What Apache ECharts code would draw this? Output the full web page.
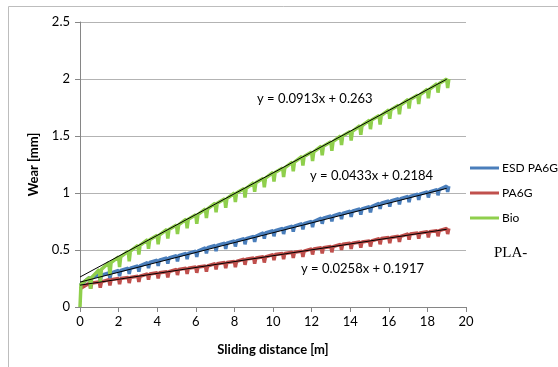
<!DOCTYPE html>
<html>
<head>
<meta charset="utf-8">
<script src="https://cdn.jsdelivr.net/npm/echarts@6/dist/echarts.min.js"></script>
<style>
  html, body { margin: 0; padding: 0; background: #fff; }
  #chart { width: 558px; height: 367px; }
</style>
</head>
<body>
<div id="chart"></div>
<script>
// sliding distance of each wear "tooth" [m]
const dist = [0.5, 1, 1.5, 2, 2.5, 3, 3.5, 4, 4.5, 5, 5.5, 6, 6.5, 7, 7.5, 8, 8.5, 9, 9.5, 10,
  10.5, 11, 11.5, 12, 12.5, 13, 13.5, 14, 14.5, 15, 15.5, 16, 16.5, 17, 17.5, 18, 18.5, 19];

const bioTop = [0.26, 0.33, 0.39, 0.44, 0.49, 0.54, 0.59, 0.63, 0.68, 0.72, 0.77, 0.81, 0.86, 0.91, 0.95, 1.00, 1.04, 1.09, 1.13, 1.18,
  1.22, 1.27, 1.32, 1.36, 1.41, 1.45, 1.50, 1.54, 1.59, 1.64, 1.68, 1.73, 1.77, 1.82, 1.86, 1.91, 1.96, 2.00];
const bioLow = [0.16, 0.22, 0.28, 0.35, 0.40, 0.46, 0.51, 0.55, 0.60, 0.64, 0.69, 0.73, 0.78, 0.83, 0.87, 0.92, 0.96, 1.01, 1.05, 1.10,
  1.14, 1.19, 1.24, 1.28, 1.33, 1.37, 1.42, 1.46, 1.51, 1.56, 1.60, 1.65, 1.69, 1.74, 1.78, 1.83, 1.88, 1.92];

const esdTop = [0.26, 0.28, 0.30, 0.32, 0.34, 0.36, 0.39, 0.41, 0.43, 0.45, 0.47, 0.49, 0.52, 0.54, 0.56, 0.58, 0.60, 0.62, 0.65, 0.67,
  0.69, 0.71, 0.73, 0.75, 0.78, 0.80, 0.82, 0.84, 0.86, 0.88, 0.91, 0.93, 0.95, 0.97, 0.99, 1.01, 1.03, 1.06];
const esdLow = [0.21, 0.23, 0.25, 0.27, 0.29, 0.31, 0.34, 0.36, 0.38, 0.40, 0.42, 0.44, 0.47, 0.49, 0.51, 0.53, 0.55, 0.57, 0.60, 0.62,
  0.64, 0.66, 0.68, 0.70, 0.73, 0.75, 0.77, 0.79, 0.81, 0.83, 0.86, 0.88, 0.90, 0.92, 0.94, 0.96, 0.98, 1.01];

const pa6gTop = [0.21, 0.22, 0.24, 0.25, 0.26, 0.27, 0.29, 0.30, 0.31, 0.33, 0.34, 0.35, 0.36, 0.38, 0.39, 0.40, 0.42, 0.43, 0.44, 0.46,
  0.47, 0.48, 0.49, 0.51, 0.52, 0.53, 0.55, 0.56, 0.57, 0.58, 0.60, 0.61, 0.62, 0.64, 0.65, 0.66, 0.67, 0.69];
const pa6gLow = [0.16, 0.17, 0.19, 0.20, 0.21, 0.22, 0.24, 0.25, 0.26, 0.28, 0.29, 0.30, 0.31, 0.33, 0.34, 0.35, 0.37, 0.38, 0.39, 0.41,
  0.42, 0.43, 0.44, 0.46, 0.47, 0.48, 0.50, 0.51, 0.52, 0.53, 0.55, 0.56, 0.57, 0.59, 0.60, 0.61, 0.62, 0.64];

// first readings at x = 0
const bioStart = [[0, 0], [0.05, 0.2]];
const esdStart = [[0, 0.19]];
const pa6gStart = [[0, 0.16]];

// linear trend lines (endpoints)
const bioFit = [[0, 0.263], [19, 1.998]];
const esdFit = [[0, 0.2184], [19, 1.041]];
const pa6gFit = [[0, 0.1917], [19, 0.682]];

const xTicks = [0, 20, 2];
const yTicks = [0, 2.5, 0.5];

const FONT = "Lato, 'Liberation Sans', sans-serif";

// build the saw-tooth path: top -> dip -> back to top
function teeth(start, tops, lows) {
  const out = start.slice();
  dist.forEach((d, i) => {
    out.push([d, tops[i]]);
    out.push([d + 0.05, lows[i]]);
    out.push([d + 0.11, tops[i]]);
  });
  return out;
}

const chart = echarts.init(document.getElementById("chart"));

const dataLine = (name, color, data) => ({
  name: name,
  type: "line",
  data: data,
  symbol: "none",
  color: color,
  lineStyle: { color: color, width: 3.5 },
  animation: false,
  z: 2
});
const fitLine = (data) => ({
  type: "line",
  data: data,
  symbol: "none",
  lineStyle: { color: "#000", width: 1 },
  animation: false,
  silent: true,
  z: 3
});

const option = {
  backgroundColor: "#fff",
  grid: { left: 80, right: 92, top: 22, bottom: 60 },
  xAxis: {
    type: "value",
    min: xTicks[0], max: xTicks[1], interval: xTicks[2],
    name: "Sliding distance [m]",
    nameLocation: "middle",
    nameGap: 36,
    nameTextStyle: { fontFamily: FONT, fontWeight: "bold", fontSize: 13, color: "#000" },
    axisLine: { lineStyle: { color: "#868686" } },
    axisTick: { show: true, length: 5, lineStyle: { color: "#868686" } },
    axisLabel: { fontFamily: FONT, fontSize: 13, color: "#000", margin: 8 },
    splitLine: { show: false }
  },
  yAxis: {
    type: "value",
    min: yTicks[0], max: yTicks[1], interval: yTicks[2],
    name: "Wear [mm]",
    nameLocation: "middle",
    nameRotate: 90,
    nameGap: 40,
    nameTextStyle: { fontFamily: FONT, fontWeight: "bold", fontSize: 13, color: "#000" },
    axisLine: { show: true, lineStyle: { color: "#868686" } },
    axisTick: { show: true, length: 5, lineStyle: { color: "#868686" } },
    axisLabel: { fontFamily: FONT, fontSize: 13, color: "#000", margin: 10 },
    splitLine: { lineStyle: { color: "#b3b3b3" } }
  },
  legend: {
    orient: "vertical",
    left: 465,
    top: 157,
    itemWidth: 29,
    itemHeight: 3,
    itemGap: 13,
    icon: "rect",
    data: ["ESD PA6G", "PA6G", "Bio"],
    textStyle: { fontFamily: FONT, fontSize: 12, color: "#000", padding: [0, 0, 0, -2] }
  },
  graphic: [
    { type: "rect", silent: true, shape: { x: 8.5, y: 6.5, width: 600, height: 400 },
      style: { fill: "none", stroke: "#bdbdbd", lineWidth: 1 } },
    { type: "text", left: 257, top: 92, style: { text: "y = 0.0913x + 0.263", font: "13px " + FONT, fill: "#000" } },
    { type: "text", left: 310, top: 169, style: { text: "y = 0.0433x + 0.2184", font: "13px " + FONT, fill: "#000" } },
    { type: "text", left: 301, top: 262, style: { text: "y = 0.0258x + 0.1917", font: "13px " + FONT, fill: "#000" } },
    { type: "text", left: 494, top: 246, style: { text: "PLA-", font: "15px 'Liberation Serif', serif", fill: "#000" } }
  ],
  series: [
    dataLine("ESD PA6G", "#4a7ebb", teeth(esdStart, esdTop, esdLow)),
    dataLine("PA6G", "#c0504d", teeth(pa6gStart, pa6gTop, pa6gLow)),
    dataLine("Bio", "#8fcf4c", teeth(bioStart, bioTop, bioLow)),
    fitLine(esdFit),
    fitLine(pa6gFit),
    fitLine(bioFit)
  ]
};

chart.setOption(option);
</script>
</body>
</html>
